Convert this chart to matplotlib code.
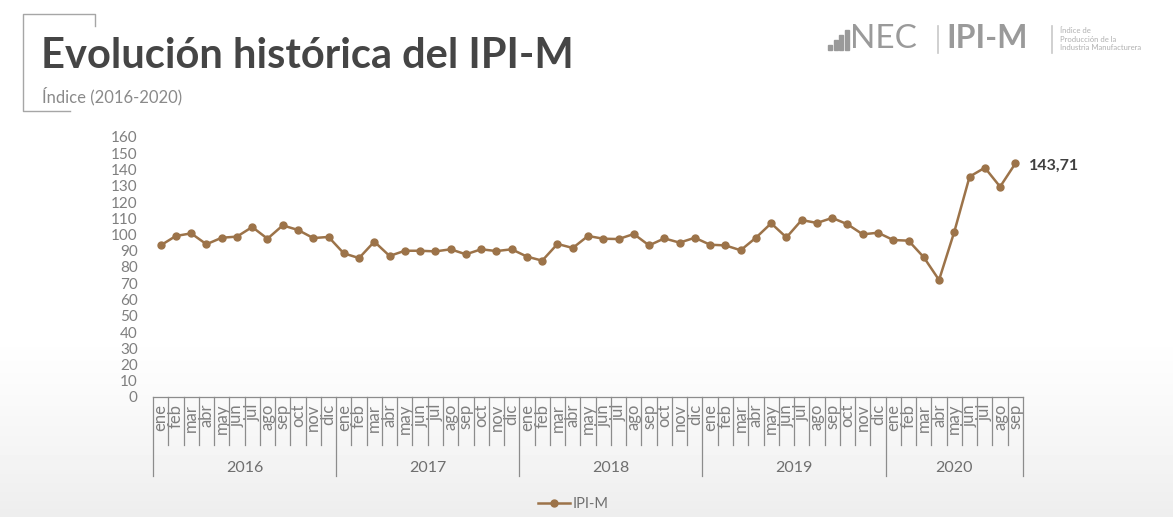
import matplotlib
matplotlib.use("Agg")
import matplotlib.pyplot as plt
import matplotlib.transforms as mtransforms
from matplotlib.patches import Rectangle
import numpy as np

plt.rcParams['font.family'] = ['Lato', 'DejaVu Sans']

# data
years = ['2016', '2017', '2018', '2019', '2020']
months = ['ene', 'feb', 'mar', 'abr', 'may', 'jun', 'jul', 'ago', 'sep', 'oct', 'nov', 'dic']
ipi_2016 = [93.3, 99.1, 100.7, 94.0, 98.0, 98.7, 104.6, 97.4, 105.6, 102.8, 97.8, 98.5]
ipi_2017 = [88.4, 85.5, 95.6, 86.8, 90.0, 90.0, 89.6, 90.9, 87.8, 90.9, 89.8, 90.9]
ipi_2018 = [86.4, 83.9, 94.2, 91.7, 99.1, 97.4, 97.2, 100.3, 93.3, 97.6, 95.0, 98.0]
ipi_2019 = [93.7, 93.3, 90.3, 98.0, 106.9, 98.2, 108.9, 107.1, 110.2, 106.3, 100.1, 101.1]
ipi_2020 = [96.6, 96.2, 86.0, 72.0, 101.7, 135.6, 141.1, 129.4, 143.71]

values = ipi_2016 + ipi_2017 + ipi_2018 + ipi_2019 + ipi_2020
labels = (months * 5)[:len(values)]
x = np.arange(len(values))

W, H = 1173, 517
fig = plt.figure(figsize=(W / 100, H / 100), dpi=100)

def fx(px):
    return px / W

def fy(py):
    return 1 - py / H

# soft grey background towards the bottom
bg = fig.add_axes([0, 0, 1, 1], zorder=-10)
rows = np.arange(H)
grad = (1 - 0.07 * np.clip((rows - 330) / 187, 0, 1) ** 1.2).reshape(-1, 1)
bg.imshow(grad, aspect='auto', cmap='gray', vmin=0, vmax=1, extent=[0, 1, 0, 1], origin='upper')
bg.axis('off')

# title block
line_col = '#a6a6a6'
fig.add_artist(plt.Line2D([fx(95), fx(95), fx(23), fx(23), fx(70)],
                          [fy(26), fy(14), fy(14), fy(111), fy(111)],
                          color=line_col, lw=1.0))
fig.text(fx(41), fy(56), 'Evolución histórica del IPI-M', fontsize=30, fontweight='bold',
         color='#454545', va='center', ha='left')
fig.text(fx(42), fy(96), 'Índice (2016-2020)', fontsize=12, color='#8a8a8a', va='center', ha='left')

# logo
logo_col = '#9a9a9a'
for i, h in enumerate([5, 10, 15, 20]):
    fig.add_artist(Rectangle((fx(828 + i * 5.5), fy(50)), fx(4), h / H, color=logo_col))
fig.text(fx(850), fy(39), 'NEC', fontsize=24, color=logo_col, va='center', ha='left')
fig.add_artist(plt.Line2D([fx(938), fx(938)], [fy(26), fy(53)], color='#c8c8c8', lw=1.2))
fig.text(fx(946), fy(39), 'IPI-M', fontsize=23, fontweight='bold', color=logo_col, va='center', ha='left')
fig.add_artist(plt.Line2D([fx(1052), fx(1052)], [fy(26), fy(53)], color='#c8c8c8', lw=1.2))
fig.text(fx(1060), fy(39), 'Índice de\nProducción de la\nIndustria Manufacturera', fontsize=5.5,
         color='#b0b0b0', va='center', ha='left', linespacing=1.2)

# main plot
ax = fig.add_axes([fx(153), fy(397), fx(1023 - 153), (397 - 137) / H])
ax.patch.set_alpha(0)
brown = '#9c7349'
ax.plot(x, values, color=brown, lw=1.8, marker='o', markersize=5, label='IPI-M')
ax.annotate('143,71', (x[-1], values[-1]), xytext=(10, -2), textcoords='offset points',
            fontsize=11.5, fontweight='bold', color='#404040', va='center', ha='left')

ax.set_xlim(-0.5, len(values) - 0.5)
ax.set_ylim(0, 160)
ax.set_yticks(range(0, 161, 10))
ax.tick_params(axis='y', length=0, pad=11, labelsize=11, labelcolor='#7f7f7f')
ax.set_xticks(x)
ax.set_xticklabels(labels, rotation=90, fontsize=12, color='#7f7f7f')
ax.tick_params(axis='x', length=0, pad=5)
for s in ['top', 'right', 'left']:
    ax.spines[s].set_visible(False)
ax.spines['bottom'].set_color('#8c8c8c')
ax.spines['bottom'].set_linewidth(0.9)

# category box lines
trans = mtransforms.blended_transform_factory(ax.transData, ax.transAxes)
for k in range(len(values) + 1):
    bx = k - 0.5
    low = -0.304 if (k % 12 == 0 or k == len(values)) else -0.185
    ax.plot([bx, bx], [0, low], transform=trans, color='#8c8c8c', lw=0.9, clip_on=False)
for j, yr in enumerate(years):
    start = j * 12
    end = min(start + 12, len(values))
    ax.text((start + end - 1) / 2, -0.273, yr, transform=trans, ha='center', va='center',
            fontsize=11.5, color='#6f6f6f')

fig.legend(loc='center', bbox_to_anchor=(fx(573), fy(504)), frameon=False, fontsize=10.5,
           labelcolor='#6f6f6f', handlelength=2.2, handletextpad=0.2)

fig.savefig('out.png', dpi=100)
